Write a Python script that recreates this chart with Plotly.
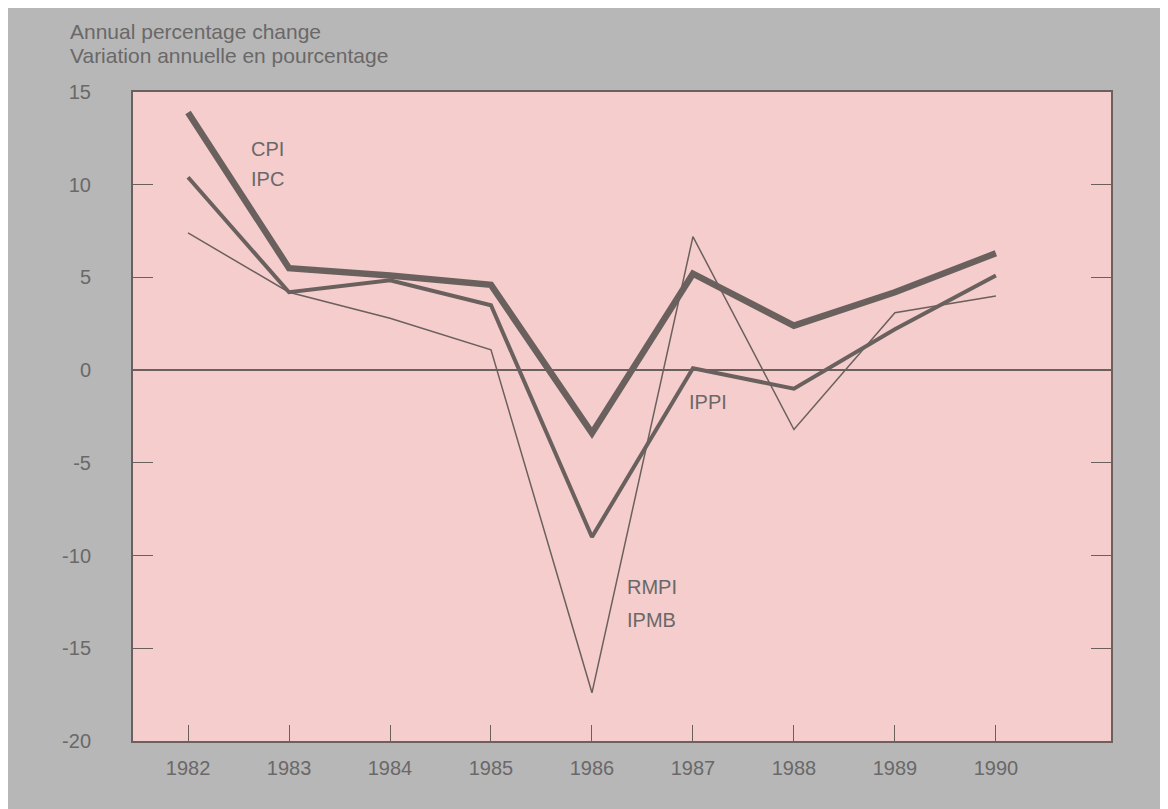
import plotly.graph_objects as go

years = [1982, 1983, 1984, 1985, 1986, 1987, 1988, 1989, 1990]
cpi = [13.9, 5.5, 5.1, 4.6, -3.4, 5.2, 2.4, 4.2, 6.3]
ippi = [10.4, 4.2, 4.85, 3.5, -9.0, 0.1, -1.0, 2.2, 5.1]
rmpi = [7.4, 4.2, 2.8, 1.1, -17.4, 7.2, -3.2, 3.1, 4.0]

y_ticks = [15, 10, 5, 0, -5, -10, -15, -20]
y_tick_text = ["15", "10", "5", "0", "-5", "-10", "-15", "-20"]

LINE = "#6a605e"
TEXT = "#6a6868"
GREY = "#b7b7b7"
PINK = "#f5cdcc"
FONT = "Liberation Sans, Arial, sans-serif"

fig = go.Figure()
fig.add_trace(go.Scatter(x=years, y=rmpi, mode="lines", line=dict(color=LINE, width=1.5), name="RMPI"))
fig.add_trace(go.Scatter(x=years, y=ippi, mode="lines", line=dict(color=LINE, width=4), name="IPPI"))
fig.add_trace(go.Scatter(x=years, y=cpi, mode="lines", line=dict(color=LINE, width=6.5), name="CPI"))

fig.update_layout(
    width=1168, height=809,
    margin=dict(l=125, r=65, t=84, b=76),
    paper_bgcolor=GREY, plot_bgcolor=PINK,
    showlegend=False,
    font=dict(family=FONT, color=TEXT, size=20),
    xaxis=dict(range=[1981.455, 1991.14], tickvals=years, ticks="inside", ticklen=16,
               tickcolor=LINE, showgrid=False, zeroline=False, showline=True, linecolor=LINE,
               linewidth=2, mirror=True, ticklabelstandoff=8, tickfont=dict(size=20, color=TEXT)),
    yaxis=dict(range=[-20, 15], tickvals=y_ticks, ticktext=y_tick_text, ticks="inside", ticklen=20,
               tickcolor=LINE, showgrid=False, zeroline=True, zerolinecolor=LINE, zerolinewidth=1.5,
               showline=True, linecolor=LINE, linewidth=2, mirror="ticks",
               ticklabelstandoff=36, tickfont=dict(size=20, color=TEXT)),
)

anns = [
    dict(text="Annual percentage change", x=-0.0665, y=1.0925),
    dict(text="Variation annuelle en pourcentage", x=-0.0665, y=1.057),
]
for a in anns:
    fig.add_annotation(text=a["text"], x=a["x"], y=a["y"], xref="paper", yref="paper",
                       xanchor="left", yanchor="middle", showarrow=False,
                       font=dict(size=21, color=TEXT, family=FONT))

labels = [
    ("CPI", 1982.60, 11.95),
    ("IPC", 1982.60, 10.3),
    ("IPPI", 1986.94, -1.72),
    ("RMPI", 1986.33, -11.7),
    ("IPMB", 1986.33, -13.45),
]
for t, x, y in labels:
    fig.add_annotation(text=t, x=x, y=y, xref="x", yref="y", xanchor="left", yanchor="middle",
                       showarrow=False, font=dict(size=20, color=TEXT, family=FONT))

fig.write_html("out.html")
